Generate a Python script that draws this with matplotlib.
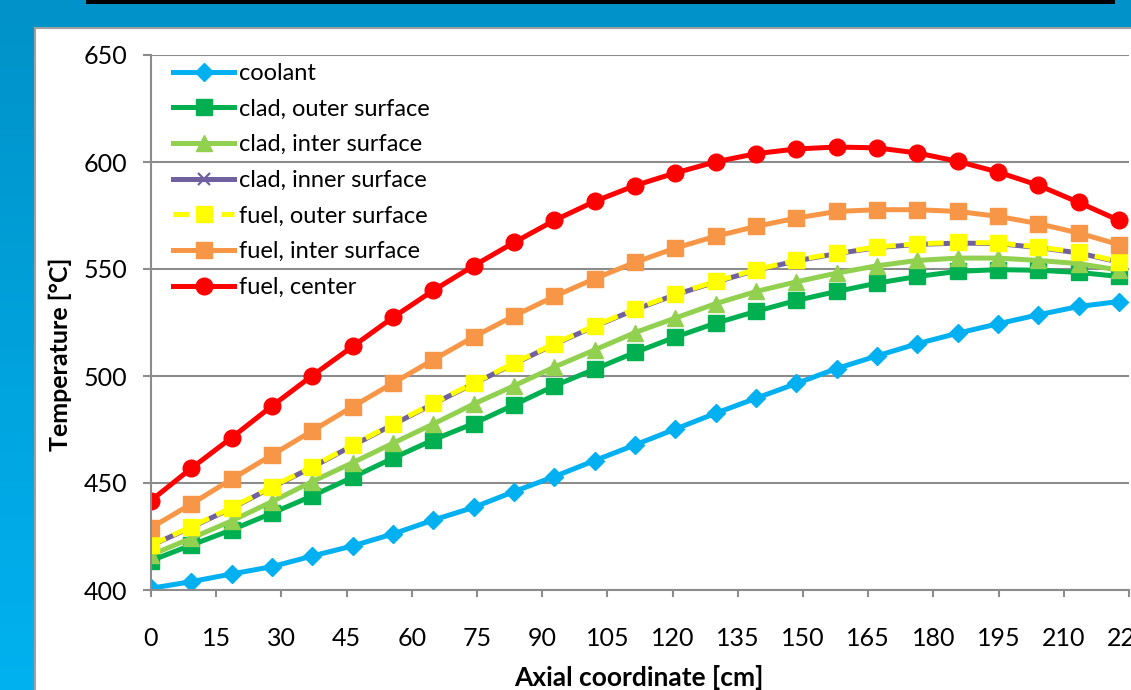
import numpy as np
import matplotlib
matplotlib.use("Agg")
import matplotlib.pyplot as plt
from matplotlib.patches import Rectangle

plt.rcParams['font.family'] = ['Lato', 'DejaVu Sans']

# axial node positions [cm]
axial = [0.0, 9.28, 18.56, 27.84, 37.12, 46.4, 55.68, 64.96, 74.24, 83.52,
         92.8, 102.08, 111.36, 120.64, 129.92, 139.2, 148.48, 157.76, 167.04,
         176.32, 185.6, 194.88, 204.16, 213.44, 222.72]

coolant = [400.8, 403.9, 407.5, 410.9, 415.9, 420.6, 426.2, 432.7, 438.6, 446.0,
           453.0, 460.5, 467.8, 475.2, 482.6, 489.6, 496.5, 503.5, 509.4, 515.1,
           520.0, 524.4, 528.6, 532.5, 534.8]
clad_outer = [413.7, 421.0, 428.1, 435.9, 444.0, 452.7, 461.6, 470.2, 477.8, 486.5,
              495.4, 503.2, 511.0, 518.2, 524.7, 530.2, 535.3, 539.5, 543.4, 546.5,
              548.9, 549.7, 549.4, 548.4, 546.5]
clad_inter = [416.4, 424.2, 432.3, 441.3, 450.7, 459.5, 468.6, 477.6, 486.9, 495.4,
              504.2, 512.2, 520.3, 527.1, 533.8, 539.5, 544.0, 548.1, 551.5, 554.0,
              555.1, 555.1, 554.0, 552.5, 549.5]
clad_inner = [420.8, 429.3, 438.2, 448.0, 457.4, 467.5, 477.3, 487.0, 496.4, 505.7,
              514.8, 523.2, 531.0, 538.0, 543.9, 549.4, 553.8, 557.2, 560.0, 561.5,
              562.1, 561.9, 560.0, 557.5, 553.2]
fuel_outer = [421.0, 429.6, 438.5, 448.3, 457.7, 467.8, 477.6, 487.3, 496.7, 506.0,
              515.1, 523.5, 531.3, 538.3, 544.2, 549.7, 554.1, 557.5, 560.3, 561.8,
              562.4, 562.2, 560.3, 557.8, 553.5]
fuel_inter = [429.1, 440.2, 451.8, 463.1, 474.4, 485.7, 496.7, 507.6, 518.3, 528.1,
              537.2, 545.5, 553.1, 559.8, 565.3, 569.9, 573.8, 576.9, 577.7, 577.7,
              576.9, 574.6, 571.2, 566.8, 561.4]
fuel_center = [441.8, 456.9, 471.2, 486.0, 500.2, 513.8, 527.4, 540.0, 551.5, 562.4,
               572.7, 581.6, 589.0, 594.9, 600.1, 603.9, 606.1, 607.0, 606.6, 604.2,
               600.3, 595.3, 589.1, 581.1, 572.7]

x_ticks = [0, 15, 30, 45, 60, 75, 90, 105, 120, 135, 150, 165, 180, 195, 210, 225]
y_ticks = [400, 450, 500, 550, 600, 650]

W, H = 1131, 690
fig = plt.figure(figsize=(W / 100, H / 100), dpi=100)

# slide background: blue gradient, black title bar, white chart panel
bg = fig.add_axes([0, 0, 1, 1], zorder=-10)
bg.set_xlim(0, W)
bg.set_ylim(H, 0)
bg.axis('off')
top_c = np.array([0x00, 0x92, 0xC8]) / 255
bot_c = np.array([0x00, 0xB2, 0xF0]) / 255
t = np.linspace(0, 1, 256)[:, None, None]
grad = top_c * (1 - t) + bot_c * t
bg.imshow(grad, extent=[0, W, H, 0], aspect='auto')
bg.add_patch(Rectangle((86, 0), 1029, 3.5, color='black', lw=0))
bg.add_patch(Rectangle((35, 28), W, H, facecolor='white', edgecolor='#a0a0a0', lw=1.5))

ax = fig.add_axes([151 / W, 1 - 590 / H, 978 / W, 535 / H])
ax.set_facecolor('none')

lw = 3.6
ax.plot(axial, coolant, color='#00B0F0', lw=lw, marker='D', ms=9, label='coolant')
ax.plot(axial, clad_outer, color='#00B050', lw=lw, marker='s', ms=11, label='clad, outer surface')
ax.plot(axial, clad_inter, color='#92D050', lw=lw, marker='^', ms=11, label='clad, inter surface')
ax.plot(axial, clad_inner, color='#7060A0', lw=lw, marker='x', ms=9, mew=1.6, label='clad, inner surface')
ax.plot(axial, fuel_outer, color='#FFFF00', lw=lw, ls=(0, (3.2, 1.6)), marker='s', ms=12, label='fuel, outer surface')
ax.plot(axial, fuel_inter, color='#F79646', lw=lw, marker='s', ms=12, label='fuel, inter surface')
ax.plot(axial, fuel_center, color='#FF0000', lw=lw, marker='o', ms=12, label='fuel, center')

ax.set_xlim(0, 225)
ax.set_ylim(400, 650)
ax.set_xticks(x_ticks)
ax.set_yticks(y_ticks)
ax.grid(axis='y', color='#8c8c8c', lw=1.5)
ax.set_axisbelow(True)
for s in ['top', 'right']:
    ax.spines[s].set_visible(False)
for s in ['left', 'bottom']:
    ax.spines[s].set_color('#8c8c8c')
    ax.spines[s].set_linewidth(1.5)
ax.tick_params(axis='y', length=6, width=1.5, color='#8c8c8c', pad=11, labelsize=18)
ax.tick_params(axis='x', length=5, width=1.5, color='#8c8c8c', pad=22, labelsize=18)

fig.text(60 / W, 1 - 354 / H, 'Temperature [°C]', rotation=90, ha='center', va='center',
         fontsize=18, fontweight='bold')
fig.text(639 / W, 1 - 677 / H, 'Axial coordinate [cm]', ha='center', va='center',
         fontsize=19, fontweight='bold')

ax.legend(loc='upper left', bbox_to_anchor=(22 / 978, 1 - 8 / 535), frameon=False,
          fontsize=17, handlelength=2.6, handletextpad=0.2, labelspacing=0.62,
          borderpad=0, borderaxespad=0)

fig.savefig('out.png', dpi=100)
